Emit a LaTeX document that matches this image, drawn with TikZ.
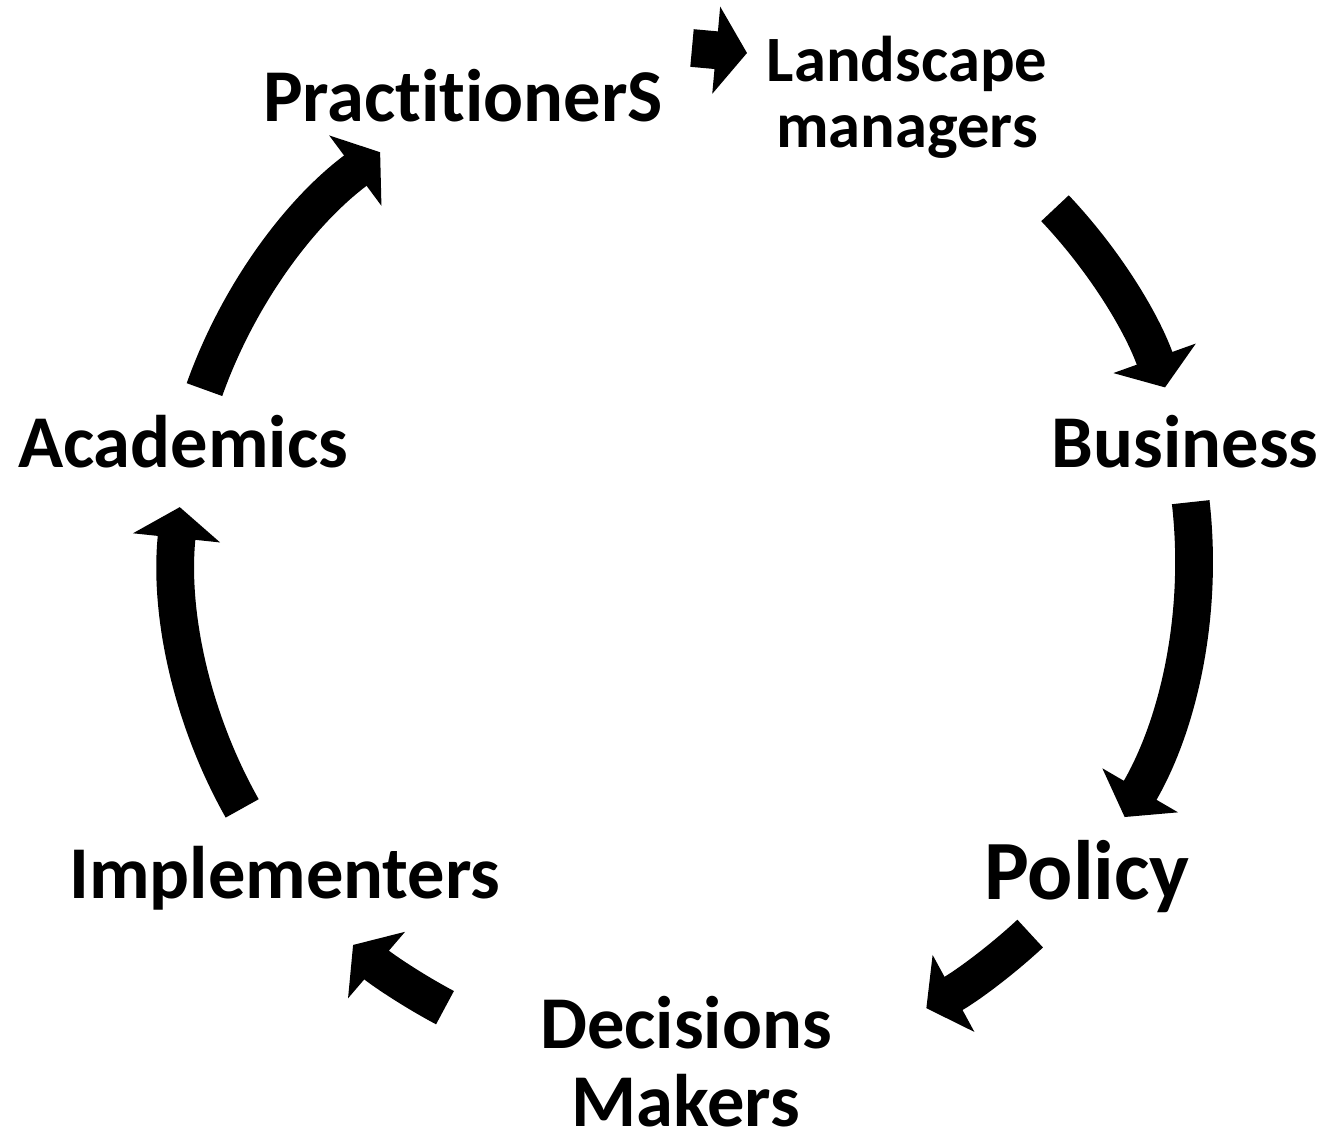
\documentclass[tikz,border=0pt]{standalone}
\usepackage{fontspec}
\setmainfont{Carlito}[Ligatures=CommonOff]
\usepackage{tikz}
\usetikzlibrary{arrows.meta}
\tikzset{
  cyc/.style={line width=21.5pt,-{Triangle[length=17.6pt,width=49pt]}},
  lbl/.style={font=\bfseries\fontsize{42.4}{44}\selectfont,inner sep=0pt,anchor=base}
}
\begin{document}
\begin{tikzpicture}[x=0.02cm,y=-0.02cm]
\useasboundingbox (0,0) rectangle (1324,1135);
\coordinate (c) at (683,560);
\node[lbl] (prac) at (463,122) {PractitionerS};
\node[lbl,align=center,font=\bfseries\fontsize{36.8}{37.6}\selectfont] (land) at (907,148) {Landscape\\managers};
\node[lbl] (bus) at (1185,467) {Business};
\node[lbl,font=\bfseries\fontsize{48}{50}\selectfont] (pol) at (1087,899) {Policy};
\node[lbl,align=center] (dec) at (686,1126) {Decisions\\Makers};
\node[lbl] (imp) at (285,898) {Implementers};
\node[lbl] (acad) at (183,467) {Academics};
% arrows round the cycle
\coordinate (pt) at (692,48);
\coordinate (lm) at (747,53);
\draw[cyc] (c) ++(199.6:508) arc[start angle=199.6,end angle=233.4,radius=508];
\draw[cyc] (pt) -- (lm);
\draw[cyc] (c) ++(316.6:512) arc[start angle=316.6,end angle=340.3,radius=512];
\draw[cyc] (c) ++(-6.5:511) arc[start angle=-6.5,end angle=30.2,radius=511];
\draw[cyc] (c) ++(47.1:510) arc[start angle=47.1,end angle=61.5,radius=510];
\draw[cyc] (c) ++(118:507) arc[start angle=118,end angle=130.6,radius=507];
\draw[cyc] (c) ++(150.6:506) arc[start angle=150.6,end angle=186,radius=506];
\end{tikzpicture}
\end{document}
